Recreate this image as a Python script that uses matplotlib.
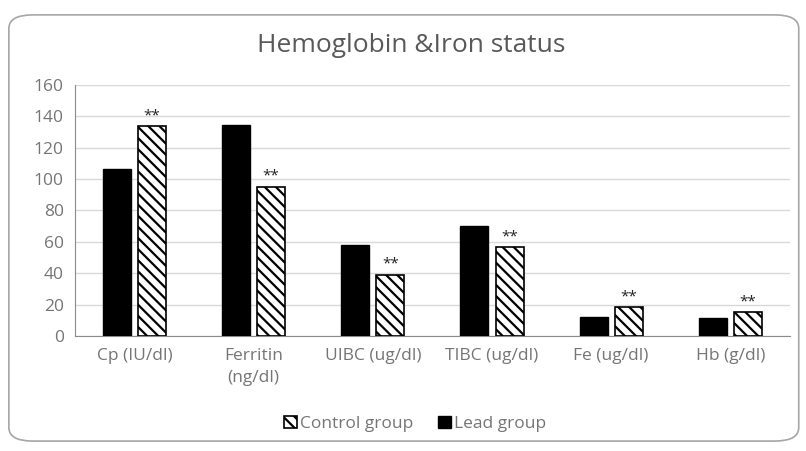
import matplotlib.pyplot as plt
import numpy as np
from matplotlib.patches import FancyBboxPatch

categories = ["Cp (IU/dl)", "Ferritin\n(ng/dl)", "UIBC (ug/dl)", "TIBC (ug/dl)", "Fe (ug/dl)", "Hb (g/dl)"]
lead = [106.5, 134.5, 58, 70, 12, 11.3]
control = [133.5, 95, 39, 56.5, 18.3, 15]
stars = ["**"] * 6

plt.rcParams['font.family'] = ['Open Sans', 'DejaVu Sans']
plt.rcParams['hatch.linewidth'] = 1.6

fig = plt.figure(figsize=(8.06, 4.51), dpi=100)
ax = fig.add_axes([0.093, 0.255, 0.887, 0.557])

x = np.arange(len(categories))
w = 0.235
ax.bar(x - 0.147, lead, w, color="black", edgecolor="black", label="Lead group", zorder=3)
ax.bar(x + 0.147, control, w, color="white", edgecolor="black", hatch="\\\\\\",
       linewidth=1.2, label="Control group", zorder=3)

for xi, v, s in zip(x, control, stars):
    ax.text(xi + 0.147, v + 2, s, ha="center", va="bottom", fontsize=11, color="#222222")

ax.set_xlim(-0.5, len(categories) - 0.5)
ax.set_ylim(0, 160)
ax.set_yticks(range(0, 161, 20))
ax.set_xticks(x)
ax.set_xticklabels(categories, linespacing=1.5)
ax.tick_params(axis="both", length=0, colors="#757575", labelsize=12.5)
ax.tick_params(axis="x", pad=9)
ax.tick_params(axis="y", pad=8)
ax.grid(axis="y", color="#d9d9d9", linewidth=1, zorder=0)
for side in ["top", "right"]:
    ax.spines[side].set_visible(False)
ax.spines["left"].set_color("#8c8c8c")
ax.spines["bottom"].set_color("#8c8c8c")

fig.text(0.51, 0.9, "Hemoglobin &Iron status", ha="center", va="center", fontsize=19, color="#595959")

handles, labels = ax.get_legend_handles_labels()
fig.legend(handles[::-1], labels[::-1], loc="center", bbox_to_anchor=(0.515, 0.06), ncol=2,
           frameon=False, fontsize=12.5, labelcolor="#757575", handlelength=0.75, handleheight=0.75,
           handletextpad=0.2, columnspacing=1.4)

border = FancyBboxPatch((0.011, 0.022), 0.98, 0.945, boxstyle="round,pad=0,rounding_size=0.03",
                        transform=fig.transFigure, facecolor="none", edgecolor="#a6a6a6", linewidth=1.2)
fig.patches.append(border)

fig.savefig("out.png", dpi=100)
